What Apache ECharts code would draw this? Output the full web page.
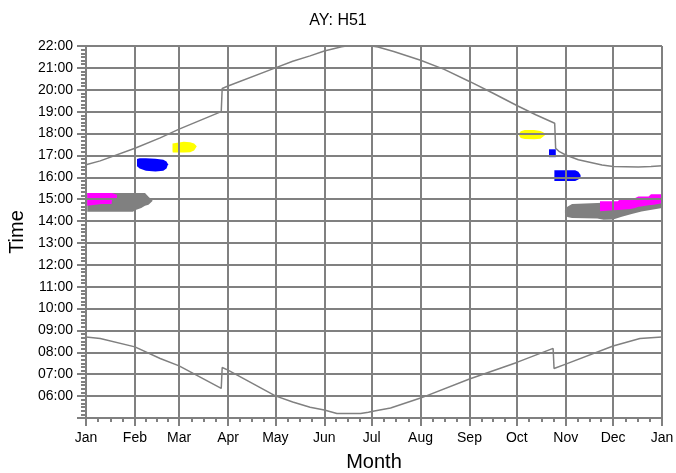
<!DOCTYPE html>
<html>
<head>
<meta charset="utf-8">
<script src="https://cdn.jsdelivr.net/npm/echarts@6/dist/echarts.min.js"></script>
<style>
html,body{margin:0;padding:0;background:#fff;}
#chart{width:676px;height:473px;}
</style>
</head>
<body>
<div id="chart"></div>
<script>
// ---- data (day of year, time in decimal hours) ----
const monthNames = ['Jan','Feb','Mar','Apr','May','Jun','Jul','Aug','Sep','Oct','Nov','Dec'];
const yTickHours = [5,6,7,8,9,10,11,12,13,14,15,16,17,18,19,20,21,22];

const sunsetDays  = [0, 9, 31, 47, 59, 85.7, 86.3, 90, 120, 131, 142, 151, 162, 165, 181, 185, 195, 212, 227, 243, 258, 273, 285, 297, 297.6, 300, 304, 312, 327, 334, 350, 358, 365];
const sunsetTimes = [16.57, 16.75, 17.33, 17.8, 18.2, 19.0, 20.06, 20.17, 21.0, 21.3, 21.55, 21.77, 21.97, 22.0, 22.0, 21.95, 21.75, 21.35, 20.93, 20.38, 19.84, 19.28, 18.86, 18.47, 17.33, 17.17, 17.02, 16.8, 16.56, 16.49, 16.47, 16.49, 16.53];

const sunriseDays  = [0, 9, 31, 47, 59, 85.7, 86.3, 90, 120, 131, 142, 151, 159, 174, 179, 181, 193, 212, 243, 273, 296, 296.6, 304, 334, 351, 365];
const sunriseTimes = [8.70, 8.63, 8.25, 7.72, 7.38, 6.35, 7.31, 7.19, 6.01, 5.73, 5.49, 5.37, 5.21, 5.21, 5.26, 5.30, 5.46, 5.91, 6.78, 7.54, 8.18, 7.26, 7.46, 8.29, 8.63, 8.70];

const grayJanDays = [0.8, 10, 20, 29.7, 31.5, 35, 37.4, 39.6, 42.3];
const grayJanLo   = [14.43, 14.43, 14.43, 14.43, 14.5, 14.6, 14.7, 14.75, 14.93];
const grayJanHi   = [15.28, 15.28, 15.28, 15.28, 15.28, 15.28, 15.28, 15.11, 14.93];

const magentaJanDays = [0.8, 9.7, 10, 16.2, 16.5, 19.6];
const magentaJanLo   = [14.70, 14.70, 14.78, 14.78, 15.0, 15.05];
const magentaJanHi   = [15.28, 15.28, 15.28, 15.28, 15.28, 15.2];

const blueFebDays = [32.3, 34, 38, 44, 49, 51, 52];
const blueFebLo   = [16.5, 16.4, 16.3, 16.26, 16.3, 16.4, 16.55];
const blueFebHi   = [16.84, 16.87, 16.87, 16.85, 16.8, 16.72, 16.6];

const yellowMarDays = [54.8, 55, 62, 66, 68.5, 70.2];
const yellowMarLo   = [17.2, 17.13, 17.13, 17.15, 17.22, 17.35];
const yellowMarHi   = [17.55, 17.63, 17.63, 17.6, 17.55, 17.42];

const yellowOctDays = [274.5, 275.5, 278, 284, 288, 290, 290.8];
const yellowOctLo   = [17.9, 17.8, 17.75, 17.74, 17.76, 17.83, 17.92];
const yellowOctHi   = [18.0, 18.1, 18.16, 18.16, 18.12, 18.05, 17.97];

const blueOctDays = [293.4, 297.7];
const blueOctLo   = [16.92, 16.92];
const blueOctHi   = [17.28, 17.28];

const blueNovDays = [296.8, 310, 312, 313.4];
const blueNovLo   = [15.83, 15.83, 15.9, 16.0];
const blueNovHi   = [16.32, 16.32, 16.25, 16.1];

const grayNovDays = [303.5, 305, 308, 324, 328, 334, 339.5, 345.8, 352, 365];
const grayNovLo   = [14.35, 14.18, 14.14, 14.12, 14.06, 14.07, 14.2, 14.32, 14.44, 14.6];
const grayNovHi   = [14.5, 14.65, 14.78, 14.82, 14.84, 14.86, 14.88, 14.9, 14.95, 15.0];

const magentaNovDays = [325.7, 334, 337, 339, 345, 348, 350, 351.6, 356.5, 358, 359.8, 365];
const magentaNovLo   = [14.45, 14.49, 14.51, 14.52, 14.55, 14.6, 14.65, 14.67, 14.72, 14.73, 14.74, 14.81];
const magentaNovHi   = [14.9, 14.9, 14.9, 15.05, 15.05, 15.05, 15.12, 15.12, 15.12, 15.23, 15.23, 15.23];

// ---- helpers ----
const DAY = 86400000;
const yearStart = new Date(2021, 0, 1).getTime();
const yearEnd = new Date(2022, 0, 1).getTime();
const ts = d => yearStart + d * DAY;
const pairs = (days, vals) => days.map((d, i) => [ts(d), vals[i]]);

const GRAYC = '#808080';
const series = [];
function band(id, color, days, lo, hi) {
  series.push({
    type: 'line', stack: id, silent: true, symbol: 'none',
    lineStyle: { width: 0, opacity: 0 },
    data: pairs(days, lo), z: 1
  });
  series.push({
    type: 'line', stack: id, silent: true, symbol: 'none',
    lineStyle: { width: 0, opacity: 0 },
    areaStyle: { color: color, opacity: 1 },
    data: days.map((d, i) => [ts(d), hi[i] - lo[i]]), z: 1
  });
}
band('gJan', GRAYC, grayJanDays, grayJanLo, grayJanHi);
band('mJan', '#ff00ff', magentaJanDays, magentaJanLo, magentaJanHi);
band('bFeb', '#0000ff', blueFebDays, blueFebLo, blueFebHi);
band('yMar', '#ffff00', yellowMarDays, yellowMarLo, yellowMarHi);
band('yOct', '#ffff00', yellowOctDays, yellowOctLo, yellowOctHi);
band('bOct', '#0000ff', blueOctDays, blueOctLo, blueOctHi);
band('bNov', '#0000ff', blueNovDays, blueNovLo, blueNovHi);
band('gNov', GRAYC, grayNovDays, grayNovLo, grayNovHi);
band('mNov', '#ff00ff', magentaNovDays, magentaNovLo, magentaNovHi);

series.push({
  type: 'line', symbol: 'none', silent: true, z: 2,
  lineStyle: { color: GRAYC, width: 1.5 },
  data: pairs(sunsetDays, sunsetTimes)
});
series.push({
  type: 'line', symbol: 'none', silent: true, z: 2,
  lineStyle: { color: GRAYC, width: 1.5 },
  data: pairs(sunriseDays, sunriseTimes)
});

const FONT = '"Liberation Sans", Arial, sans-serif';
const chart = echarts.init(document.getElementById('chart'), null, { renderer: 'canvas' });
chart.setOption({
  animation: false,
  backgroundColor: '#fff',
  textStyle: { fontFamily: FONT },
  title: {
    text: 'AY: H51', left: 'center', top: 8,
    textStyle: { fontSize: 16, fontWeight: 'normal', color: '#000', fontFamily: FONT }
  },
  grid: { left: 86, right: 14, top: 46, bottom: 55, containLabel: false, outerBoundsMode: 'none' },
  xAxis: {
    type: 'time', min: yearStart, max: yearEnd, splitNumber: 12, z: 5,
    name: 'Month', nameLocation: 'middle', nameGap: 34,
    nameTextStyle: { fontSize: 20, color: '#000', fontFamily: FONT },
    axisLine: { show: true, lineStyle: { color: GRAYC, width: 2 } },
    axisTick: { show: true, length: 8, lineStyle: { color: GRAYC, width: 2 } },
    minorTick: { show: true, splitNumber: 4, length: 4, lineStyle: { color: GRAYC, width: 2 } },
    axisLabel: {
      show: true, margin: 13, fontSize: 14, color: '#000', fontFamily: FONT,
      showMinLabel: true, showMaxLabel: true, hideOverlap: false,
      formatter: v => monthNames[new Date(v).getMonth()]
    },
    splitLine: { show: true, lineStyle: { color: GRAYC, width: 2 } }
  },
  yAxis: {
    type: 'value', min: yTickHours[0], max: yTickHours[yTickHours.length - 1], interval: 1, z: 5,
    name: 'Time', nameLocation: 'middle', nameGap: 58,
    nameTextStyle: { fontSize: 20, color: '#000', fontFamily: FONT },
    axisLine: { show: true, lineStyle: { color: GRAYC, width: 2 } },
    axisTick: { show: true, length: 9, lineStyle: { color: GRAYC, width: 2 } },
    minorTick: { show: true, splitNumber: 6, length: 5, lineStyle: { color: GRAYC, width: 2 } },
    axisLabel: {
      margin: 13, fontSize: 14, color: '#000', fontFamily: FONT,
      formatter: v => (v <= yTickHours[0] ? '' : String(v).padStart(2, '0') + ':00')
    },
    splitLine: { show: true, lineStyle: { color: GRAYC, width: 2 } }
  },
  series: series
});
</script>
</body>
</html>
